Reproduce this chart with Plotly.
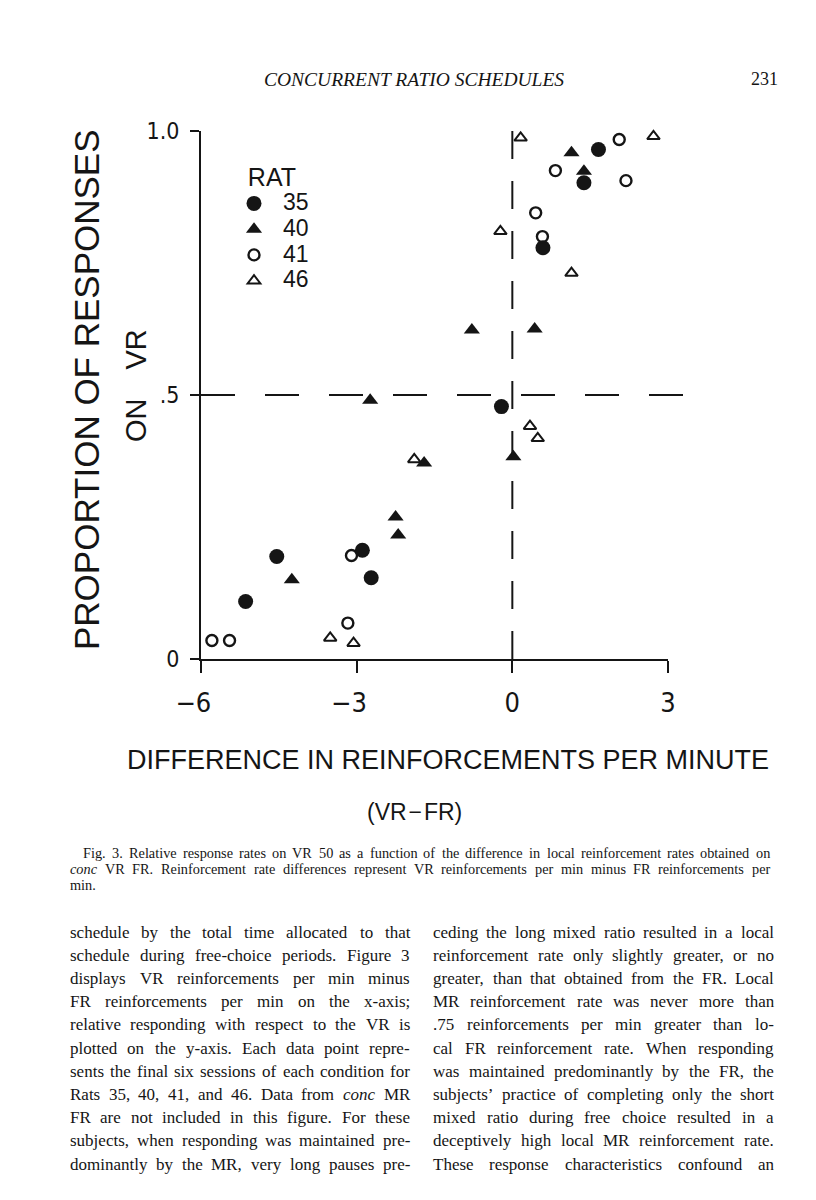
import re
import plotly.graph_objects as go

# ---------------- data ----------------
rat35_x = [1.66, 1.38, 0.59, -0.21, -2.89, -4.54, -2.72, -5.14]
rat35_y = [0.965, 0.902, 0.779, 0.478, 0.206, 0.194, 0.154, 0.109]

rat40_x = [1.14, 1.38, -0.78, 0.43, -2.74, 0.02, -1.70, -2.25, -2.20, -4.25]
rat40_y = [0.959, 0.924, 0.623, 0.625, 0.490, 0.383, 0.371, 0.269, 0.235, 0.150]

rat41_x = [2.06, 0.83, 2.19, 0.45, 0.58, -3.10, -3.17, -5.79, -5.45]
rat41_y = [0.984, 0.925, 0.906, 0.845, 0.800, 0.196, 0.068, 0.035, 0.035]

rat46_x = [0.16, 2.72, -0.23, 1.14, 0.34, 0.49, -1.89, -3.51, -3.06]
rat46_y = [0.987, 0.990, 0.810, 0.731, 0.441, 0.418, 0.378, 0.040, 0.030]

x_ticks = [-6, -3, 0, 3]
x_ticktext = ["\u22126\u2007", "\u22123\u2007", "0", "3"]
y_ticks = [0, 0.5, 1.0]
y_ticktext = ["0", ".5", "1.0"]

header_title = "CONCURRENT RATIO SCHEDULES"
page_number = "231"
y_title = "PROPORTION OF RESPONSES"
y_title2 = "ON\u2003VR"
x_title = "DIFFERENCE IN REINFORCEMENTS PER MINUTE"
x_title2 = "(VR\u200a\u2212\u200aFR)"

caption_lines = [
    "Fig. 3. Relative response rates on VR 50 as a function of the difference in local reinforcement rates obtained on",
    "<i>conc</i> VR FR. Reinforcement rate differences represent VR reinforcements per min minus FR reinforcements per",
    "min.",
]
left_col = [
    "schedule by the total time allocated to that",
    "schedule during free-choice periods. Figure 3",
    "displays VR reinforcements per min minus",
    "FR reinforcements per min on the x-axis;",
    "relative responding with respect to the VR is",
    "plotted on the y-axis. Each data point repre-",
    "sents the final six sessions of each condition for",
    "Rats 35, 40, 41, and 46. Data from <i>conc</i> MR",
    "FR are not included in this figure. For these",
    "subjects, when responding was maintained pre-",
    "dominantly by the MR, very long pauses pre-",
]
right_col = [
    "ceding the long mixed ratio resulted in a local",
    "reinforcement rate only slightly greater, or no",
    "greater, than that obtained from the FR. Local",
    "MR reinforcement rate was never more than",
    ".75 reinforcements per min greater than lo-",
    "cal FR reinforcement rate. When responding",
    "was maintained predominantly by the FR, the",
    "subjects\u2019 practice of completing only the short",
    "mixed ratio during free choice resulted in a",
    "deceptively high local MR reinforcement rate.",
    "These response characteristics confound an",
]

# ---------------- layout geometry ----------------
W, H = 816, 1200
OFF = 8  # the page body adds an 8px offset; positions below are page pixels
INK = "#151515"
SANS = "Liberation Sans, Arial, sans-serif"
COND = "DejaVu Sans Condensed, Liberation Sans Narrow, Liberation Sans, sans-serif"
SERIF = "Liberation Serif, Times New Roman, serif"


def px(xpix):
    return (xpix - OFF) / W


def py(ypix):
    return 1 - (ypix - OFF) / H


XR = [-6, 3]
YR = [0, 1]
XD = [px(201), px(668)]
YD = [py(659), py(131)]


def xp(v):
    return XD[0] + (v - XR[0]) / (XR[1] - XR[0]) * (XD[1] - XD[0])


def yp(v):
    return YD[0] + (v - YR[0]) / (YR[1] - YR[0]) * (YD[1] - YD[0])


# Times-compatible advance widths (1/1000 em) used to justify the text columns
_TW = dict(zip("ABCDEFGHIJKLMNOPQRSTUVWXYZ",
               [722, 667, 667, 722, 611, 556, 722, 722, 333, 389, 722, 611, 889,
                722, 722, 556, 722, 667, 556, 611, 722, 722, 944, 722, 722, 611]))
_TW.update(zip("abcdefghijklmnopqrstuvwxyz",
               [444, 500, 444, 500, 444, 333, 500, 500, 278, 278, 500, 278, 778,
                500, 500, 500, 500, 333, 389, 278, 500, 500, 722, 500, 500, 444]))
_TW.update({c: 500 for c in "0123456789"})
_TW.update({" ": 250, ".": 250, ",": 250, ";": 278, ":": 278, "-": 333,
            "'": 333, "\u2019": 333, "(": 333, ")": 333})


def tw(s, size):
    s = re.sub(r"<[^>]+>", "", s)
    return sum(_TW.get(c, 500) for c in s) * size / 1000.0


def justified(line, x0, x1, ypix, size, justify=True):
    words = line.split(" ")
    out = []
    if not justify or len(words) == 1:
        gap = 0.25 * size
    else:
        gap = (x1 - x0 - sum(tw(w, size) for w in words)) / (len(words) - 1)
    x = x0
    for w in words:
        out.append(dict(text=w, x=px(x), y=py(ypix), xanchor="left",
                        font=dict(family=SERIF, size=size, color=INK)))
        x += tw(w, size) + gap
    return out


fig = go.Figure()

series = [
    ("35", rat35_x, rat35_y, "circle", 15, 0),
    ("40", rat40_x, rat40_y, "triangle-up", 14, 0),
    ("41", rat41_x, rat41_y, "circle-open", 11, 2.4),
    ("46", rat46_x, rat46_y, "triangle-up-open", 11, 2.0),
]
for name, xs, ys, sym, size, lw in series:
    fig.add_trace(go.Scatter(
        x=xs, y=ys, mode="markers", cliponaxis=False,
        name='<span style="font-size:23px">' + name + "</span>",
        marker=dict(symbol=sym, size=size, color=INK,
                    line=dict(color=INK, width=lw)),
    ))

# dashed reference lines (x = 0, y = .5)
fig.add_shape(type="line", xref="paper", yref="paper",
              x0=xp(-6), x1=xp(3.45), y0=yp(0.5), y1=yp(0.5),
              line=dict(color=INK, width=2, dash="34px,30px"))
fig.add_shape(type="line", xref="paper", yref="paper",
              x0=xp(0), x1=xp(0), y0=yp(0), y1=yp(1.018),
              line=dict(color=INK, width=2, dash="28px,22px"))

fig.update_xaxes(
    range=XR, domain=XD, showgrid=False, zeroline=False, automargin=False,
    showline=True, linecolor=INK, linewidth=2,
    ticks="outside", ticklen=12, tickwidth=2, tickcolor=INK,
    tickmode="array", tickvals=x_ticks, ticktext=x_ticktext,
    tickfont=dict(family=COND, size=27, color=INK),
    ticklabelstandoff=7,
)
fig.update_yaxes(
    range=YR, domain=YD, showgrid=False, zeroline=False, automargin=False,
    showline=True, linecolor=INK, linewidth=2,
    ticks="outside", ticklen=9, tickwidth=2, tickcolor=INK,
    tickmode="array", tickvals=y_ticks, ticktext=y_ticktext,
    tickfont=dict(family=COND, size=23, color=INK),
    ticklabelstandoff=6,
)

ann = []
ann.append(dict(text=header_title, x=px(414), y=py(79),
                font=dict(family=SERIF, size=19.5, color=INK, style="italic")))
ann.append(dict(text=page_number, x=px(764), y=py(79), font=dict(family=SERIF, size=18, color=INK)))
ann.append(dict(text=y_title, x=px(86), y=py(390), textangle=-90,
                font=dict(family=SANS, size=35, color=INK)))
ann.append(dict(text=y_title2, x=px(136), y=py(386), textangle=-90,
                font=dict(family=SANS, size=29, color=INK)))
ann.append(dict(text=x_title, x=px(448), y=py(760),
                font=dict(family=SANS, size=27, color=INK)))
ann.append(dict(text=x_title2, x=px(414), y=py(812),
                font=dict(family=SANS, size=23, color=INK)))

CAP_SIZE = 14.3
ann += justified(caption_lines[0], 81, 768, 853, CAP_SIZE)
ann += justified(caption_lines[1], 68, 768, 869, CAP_SIZE)
ann += justified(caption_lines[2], 68, 768, 885, CAP_SIZE, justify=False)

BODY_SIZE = 17
for i, t in enumerate(left_col):
    ann += justified(t, 68, 408, 932 + i * 23.2, BODY_SIZE)
for i, t in enumerate(right_col):
    ann += justified(t, 431, 772, 932 + i * 23.2, BODY_SIZE)

for a in ann:
    a.setdefault("xanchor", "center")
    a.update(xref="paper", yref="paper", yanchor="middle", showarrow=False)

fig.update_layout(
    width=W, height=H,
    margin=dict(l=0, r=0, t=0, b=0, autoexpand=False),
    paper_bgcolor="white", plot_bgcolor="white",
    annotations=ann,
    showlegend=True,
    legend=dict(
        x=px(225), y=py(153), xanchor="left", yanchor="top",
        bgcolor="rgba(0,0,0,0)", borderwidth=0,
        font=dict(family=SANS, size=17.5, color=INK),
        title=dict(text="\u00a0\u00a0\u00a0RAT", font=dict(family=SANS, size=25, color=INK)),
        tracegroupgap=0, itemsizing="trace", itemwidth=48,
    ),
)

fig.write_html("out.html")
